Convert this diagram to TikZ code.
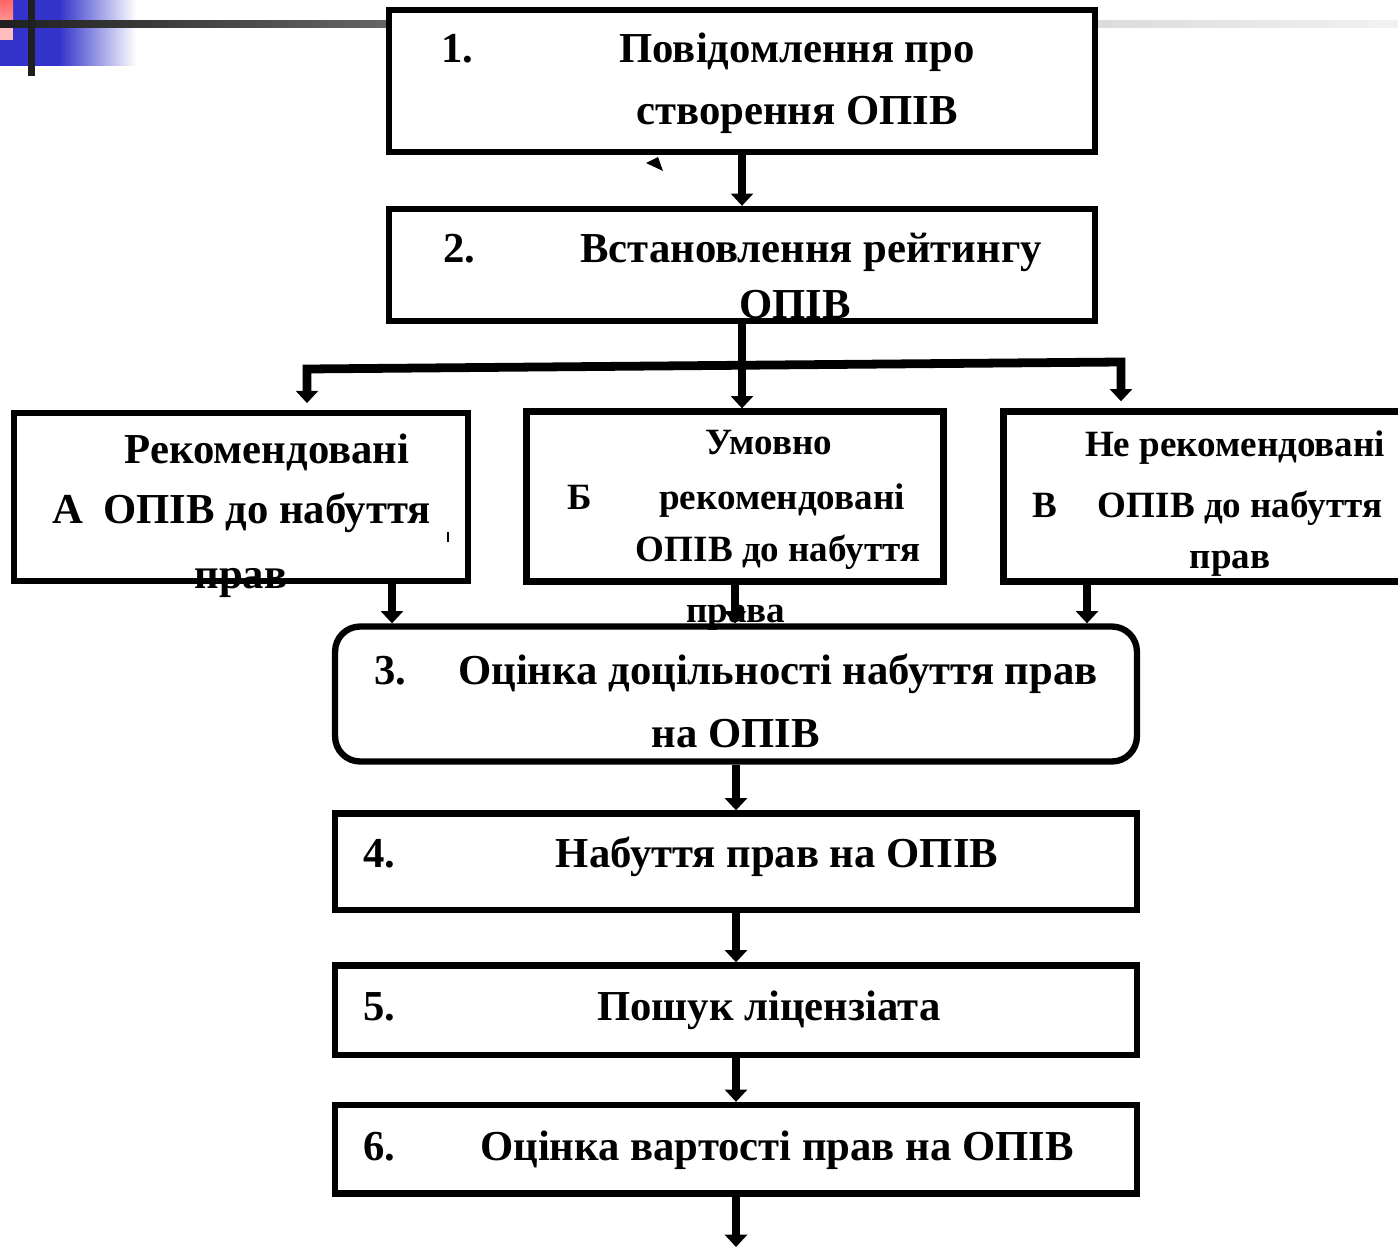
\documentclass[tikz,border=0pt]{standalone}
\usepackage{fontspec}
\setmainfont{Liberation Serif}
\usetikzlibrary{positioning,arrows.meta,calc}

\definecolor{slideblue}{RGB}{51,51,204}
\definecolor{slidered}{RGB}{255,102,102}
\definecolor{slidepink}{RGB}{255,190,190}

\begin{document}
\begin{tikzpicture}[
    x=0.02cm, y=-0.02cm,
    box/.style={draw, line width=3.6pt, fill=white, inner sep=0pt},
    bigtxt/.style={font=\bfseries\fontsize{24.3}{29}\selectfont, inner sep=0pt, anchor=base},
    smalltxt/.style={font=\bfseries\fontsize{21.1}{25}\selectfont, inner sep=0pt, anchor=base},
    num/.style={bigtxt, anchor=base west},
    arr/.style={-{Triangle[length=7pt,width=12.5pt]}, line width=5pt}
]
\useasboundingbox (0,0) rectangle (1398,1247);

% slide decoration
\fill[slideblue] (0,0) rectangle (59,66);
\shade[left color=slideblue, right color=white] (59,0) rectangle (136,66);
\shade[top color=slidered, bottom color=slidered!70!white] (0,0) rectangle (13,21);
\fill[slidepink] (0,28) rectangle (13,40);
\shade[left color=black!88, right color=black!60] (0,21) rectangle (389,28);
\shade[left color=black!14, right color=black!5] (1095,21) rectangle (1398,28);
\fill[black!88] (28,0) rectangle (35,76);

% boxes
\node[box, minimum width=14.12cm, minimum height=2.84cm] (b1) at (742,81) {};
\node[box, minimum width=14.12cm, minimum height=2.24cm] (b2) at (742,265) {};
\node[box, minimum width=9.08cm, minimum height=3.35cm] (bA) at (241,497) {};
\node[box, minimum width=8.34cm, minimum height=3.4cm] (bB) at (735,496.5) {};
\node[box, minimum width=8.33cm, minimum height=3.4cm] (bV) at (1211.75,496.5) {};
\node[box, rounded corners=0.5cm, minimum width=16.04cm, minimum height=2.7cm] (b3) at (736,694) {};
\node[box, minimum width=16.04cm, minimum height=1.93cm] (b4) at (736,861.75) {};
\node[box, minimum width=16.04cm, minimum height=1.79cm] (b5) at (736,1010.25) {};
\node[box, minimum width=16.04cm, minimum height=1.77cm] (b6) at (736,1149.25) {};

% texts
\node[num] (n1) at (441,63) {1.};
\node[bigtxt] (t1a) at (797,63) {Повідомлення про};
\node[bigtxt] (t1b) at (797,124) {створення ОПІВ};

\node[num] (n2) at (443,262) {2.};
\node[bigtxt] (t2a) at (811,262) {Встановлення рейтингу};
\node[bigtxt] (t2b) at (795,318) {ОПІВ};

\node[bigtxt] (tAa) at (267,463) {Рекомендовані};
\node[bigtxt, anchor=base west] (lA) at (52,523) {А};
\node[bigtxt, anchor=base west] (tAb) at (103,523) {ОПІВ до набуття};
\node[bigtxt] (tAc) at (241,588) {прав};

\node[smalltxt] (tBa) at (769,454) {Умовно};
\node[smalltxt, anchor=base west] (lB) at (567,509) {Б};
\node[smalltxt] (tBb) at (782,509) {рекомендовані};
\node[smalltxt] (tBc) at (778,561) {ОПІВ до набуття};
\node[smalltxt] (tBd) at (736,622) {права};

\node[smalltxt] (tVa) at (1235,456) {Не рекомендовані};
\node[smalltxt, anchor=base west] (lV) at (1032,517) {В};
\node[smalltxt] (tVb) at (1240,517) {ОПІВ до набуття};
\node[smalltxt] (tVc) at (1230,568) {прав};

\node[num] (n3) at (374,684) {3.};
\node[bigtxt] (t3a) at (778,684) {Оцінка доцільності набуття прав};
\node[bigtxt] (t3b) at (736,747) {на ОПІВ};

\node[num] (n4) at (363,867) {4.};
\node[bigtxt] (t4) at (777,867) {Набуття прав на ОПІВ};

\node[num] (n5) at (363,1020) {5.};
\node[bigtxt] (t5) at (769,1020) {Пошук ліцензіата};

\node[num] (n6) at (363,1160) {6.};
\node[bigtxt] (t6) at (777,1160) {Оцінка вартості прав на ОПІВ};

% small marks
\fill (646,163) -- (658,157) -- (663,171) -- cycle;
\draw[line width=1.2pt] (448,532) -- (448,542);

% connectors
\coordinate (jl) at (307,369);
\coordinate (jr) at (1121,362);
\coordinate (exit) at (738,1247);

\draw[arr] (b1.south) -- (b2.north);
\draw[arr] (b2.south) -- (b2.south |- bB.north);
\draw[{Triangle[length=7pt,width=12.5pt]}-{Triangle[length=7pt,width=12.5pt]}, line width=5pt, shorten <=4pt, shorten >=4pt]
    (jl |- bA.north) -- (jl) -- (jr) -- (jr |- bV.north);
\draw[arr] (392,0 |- bA.south) -- (392,0 |- b3.north);
\draw[arr] (bB.south) -- (bB.south |- b3.north);
\draw[arr] (1087,0 |- bV.south) -- (1087,0 |- b3.north);
\draw[arr] (b3.south) -- (b4.north);
\draw[arr] (b4.south) -- (b5.north);
\draw[arr] (b5.south) -- (b6.north);
\draw[arr] (b6.south) -- (b6.south |- exit);
\end{tikzpicture}
\end{document}
